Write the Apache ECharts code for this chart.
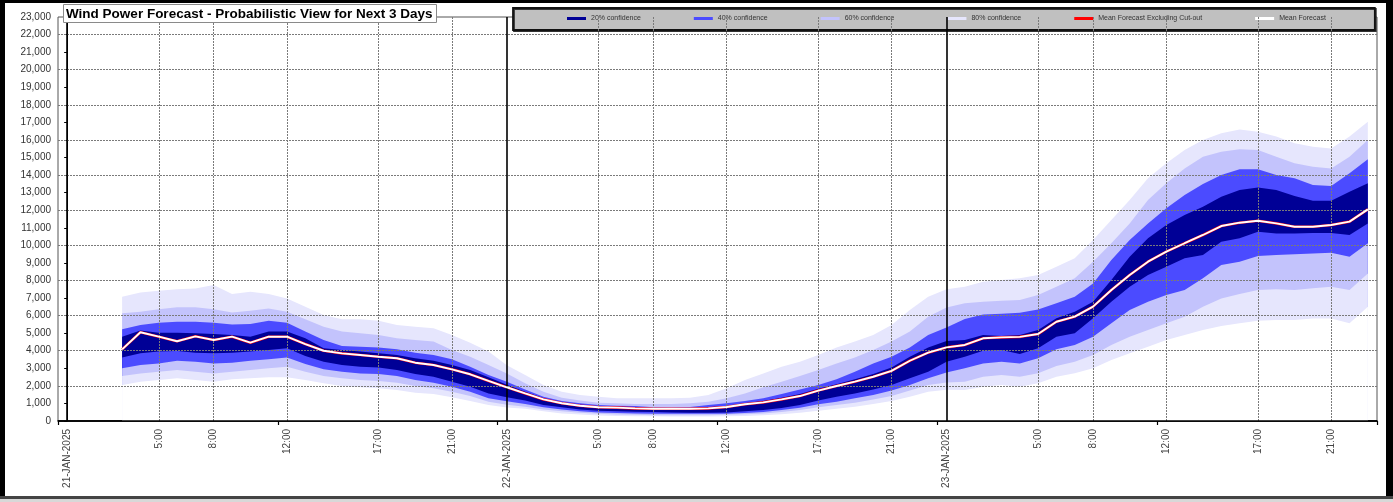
<!DOCTYPE html>
<html><head><meta charset="utf-8">
<script src="https://cdn.jsdelivr.net/npm/echarts@6/dist/echarts.min.js"></script>
<style>html,body{margin:0;padding:0;background:#fff}#c{width:1393px;height:502px}</style>
</head><body><div id="c"></div>
<script>
// hours since 21-JAN-2025 00:00
const hours = [3,4,5,6,7,8,9,10,11,12,13,14,15,16,17,18,19,20,21,22,23,24,
  25,26,27,28,29,30,31,32,33,34,35,36,37,38,39,40,41,42,43,44,45,46,47,48,
  49,50,51,52,53,54,55,56,57,58,59,60,61,62,63,64,65,66,67,68,69,70,71];

const hi80 = [7080,7310,7420,7500,7550,7740,7230,7360,7230,6980,6510,6030,5790,5790,5710,5470,5370,5280,4900,4460,3950,3180,
  2620,2050,1670,1480,1380,1290,1290,1290,1290,1330,1480,1860,2330,2710,3090,3380,3760,4190,4520,4900,5470,6320,7080,7500,
  7650,7930,8030,8120,8310,8780,9260,10300,11440,12580,13820,14670,15430,16000,16380,16600,16470,16190,15810,15620,15520,16190,17040];
const hi60 = [6130,6220,6360,6470,6470,6360,6170,6280,6410,6220,5790,5370,5090,4990,4900,4710,4610,4520,4040,3660,3190,2710,
  2150,1670,1330,1160,1040,1010,970,970,970,1010,1100,1290,1570,1920,2240,2560,2900,3280,3620,4040,4520,5090,5940,6460,
  6700,6790,6850,6890,7170,7650,8120,9070,10120,11250,12580,13530,14380,15050,15330,15470,15430,15050,14670,14480,14380,15050,16000];
const hi40 = [5220,5470,5600,5650,5650,5600,5500,5520,5710,5600,5090,4610,4270,4230,4190,4080,3890,3760,3510,3090,2620,2230,
  1800,1380,1140,1010,910,870,850,780,770,800,910,1010,1140,1290,1540,1800,2050,2370,2810,3280,3660,4190,4900,5320,
  5800,6070,6110,6160,6350,6700,7080,7830,9170,10300,11250,12110,12870,13490,14000,14330,14330,14000,13820,13430,13380,14100,14900];
const hi20 = [4800,5150,5030,5030,4990,4950,4900,4800,5090,5090,4710,4140,4040,3950,3850,3760,3570,3430,3190,2900,2490,2070,
  1670,1290,1040,910,810,780,760,740,740,740,780,850,1010,1140,1330,1540,1840,2090,2370,2680,3050,3660,4190,4560,
  4610,4900,4840,4900,5180,5850,6220,6790,8030,9350,10400,11160,11730,12200,12770,13150,13300,13150,12810,12540,12540,13050,13530];
const meanForecast = [4080,5050,4800,4540,4820,4610,4800,4460,4800,4800,4380,4000,3850,3760,3660,3570,3320,3190,2940,2660,2280,1920,
  1570,1230,1010,870,780,760,720,700,700,700,720,800,950,1060,1230,1420,1730,1990,2240,2520,2850,3430,3890,4190,
  4330,4710,4760,4790,4950,5650,5940,6510,7460,8310,9070,9640,10120,10590,11100,11290,11400,11250,11060,11060,11160,11350,12050];
const meanExCutout = meanForecast.slice();
const lo20 = [3620,3850,3950,3990,3890,3850,3890,3950,4040,4140,3700,3380,3190,3090,3050,2900,2680,2520,2240,1950,1570,1350,
  1160,910,780,660,590,550,530,510,490,470,470,490,550,630,740,910,1160,1380,1570,1800,2050,2430,2810,3380,
  3660,4000,4040,3810,4140,4800,4990,5850,6790,7650,8310,8780,9260,9450,10210,10400,10780,10680,10680,10700,10700,10590,11250];
const lo40 = [3000,3190,3280,3430,3380,3280,3320,3430,3510,3620,3240,2940,2810,2710,2680,2560,2330,2180,1950,1670,1290,1120,
  970,780,660,550,490,450,430,410,410,410,410,410,450,510,630,760,950,1100,1290,1480,1730,2050,2430,2760,
  3000,3280,3380,3280,3570,4080,4330,4800,5560,6320,6790,7170,7460,8120,8880,9070,9390,9450,9500,9540,9580,9350,10120];
const lo60 = [2560,2710,2810,2900,2810,2710,2810,2900,3000,3090,2810,2560,2430,2330,2280,2180,1990,1860,1670,1420,1100,930,
  810,660,550,470,410,370,350,330,330,330,330,350,390,430,510,630,780,910,1040,1230,1420,1730,2050,2190,
  2240,2520,2620,2520,2720,3130,3380,3760,4330,4800,5180,5560,5940,6510,6980,7230,7460,7500,7460,7560,7650,7460,8400];
const lo80 = [2050,2240,2330,2430,2330,2240,2370,2430,2490,2490,2330,2150,1990,1920,1860,1760,1610,1540,1350,1140,910,770,
  700,550,430,370,310,290,270,270,250,250,250,270,290,330,390,470,590,700,810,970,1140,1380,1670,1780,
  1760,1950,2050,1950,2150,2520,2720,3000,3470,3850,4230,4610,4900,5180,5410,5560,5710,5750,5750,5840,5840,5560,6510];

const tickHours  = [0,5,8,12,17,21,24,29,32,36,41,45,48,53,56,60,65,69];
const tickLabels = ['21-JAN-2025','5:00','8:00','12:00','17:00','21:00','22-JAN-2025','5:00','8:00','12:00','17:00','21:00','23-JAN-2025','5:00','8:00','12:00','17:00','21:00'];
const dayHours = [0,24,48];
const gridValues = [2000,4000,6000,8000,10000,12000,14000,16000,18000,20000,22000];

const C20='#000096', C40='#4b4bff', C60='#c3c3fc', C80='#e6e6fd';
const FONT = 'Liberation Sans, Arial, sans-serif';

function pts(arr){ return hours.map((h,i)=>[h,arr[i]]); }
function band(name, arr, color){
  return {name, type:'line', data:pts(arr), symbol:'none', showSymbol:false, silent:true,
    lineStyle:{width:0, color}, itemStyle:{color}, areaStyle:{color, opacity:1}, z:2, animation:false};
}

const labelMap = {};
tickHours.forEach((h,i)=>labelMap[h]=tickLabels[i]);

const markData = [];
gridValues.forEach(v=>markData.push({yAxis:v, lineStyle:{color:'#7a7a7a', width:1, type:[2,1]}}));
tickHours.forEach(h=>{
  if (dayHours.indexOf(h) >= 0) markData.push({xAxis:h, lineStyle:{color:'#000', width:1.6, type:'solid'}});
  else markData.push({xAxis:h, lineStyle:{color:'#7a7a7a', width:1, type:[2,1]}});
});
// x-axis baseline redrawn above the filled bands
markData.push({yAxis:0, lineStyle:{color:'#000', width:1.5, type:'solid'}});

const chart = echarts.init(document.getElementById('c'), null, {renderer:'canvas'});
chart.setOption({
  animation:false,
  backgroundColor:'#fff',
  title:{
    text:'Wind Power Forecast - Probabilistic View for Next 3 Days',
    left:63, top:4, padding:[3,4,2,3],
    backgroundColor:'#fff', borderColor:'#8a8a8a', borderWidth:1,
    textStyle:{fontFamily:FONT, fontSize:13.5, fontWeight:'bold', color:'#000'}
  },
  legend:{
    left:513, top:8, padding:[7,49,8,54], itemGap:53, itemWidth:19, itemHeight:3,
    backgroundColor:'#c0c0c0', borderColor:'#111', borderWidth:1.8,
    shadowColor:'#333', shadowOffsetX:1, shadowOffsetY:1, shadowBlur:0,
    selectedMode:false,
    textStyle:{fontFamily:FONT, fontSize:7, color:'#333'},
    data:[
      {name:'20% confidence', icon:'rect'},
      {name:'40% confidence', icon:'rect'},
      {name:'60% confidence', icon:'rect'},
      {name:'80% confidence', icon:'rect'},
      {name:'Mean Forecast Excluding Cut-out', icon:'rect'},
      {name:'Mean Forecast', icon:'rect'}
    ]
  },
  grid:{left:58, top:17, width:1319, height:404, show:true, borderColor:'#555', borderWidth:1, backgroundColor:'transparent'},
  xAxis:[{
    type:'value', min:-0.5, max:71.5, interval:0.5,
    axisLine:{show:true, lineStyle:{color:'#000', width:1.5}},
    axisTick:{show:false}, splitLine:{show:false},
    axisLabel:{rotate:90, margin:8, fontFamily:FONT, fontSize:10, color:'#444',
      formatter:v=>{const k=Math.round(v*2)/2; return (k in labelMap)? labelMap[k] : '';}}
  },{
    type:'value', min:-0.5, max:71.5, interval:12, position:'bottom',
    axisLine:{show:false}, axisLabel:{show:false}, splitLine:{show:false},
    axisTick:{show:true, length:4, lineStyle:{color:'#000', width:1.2}}
  }],
  yAxis:{
    type:'value', min:0, max:23000, interval:1000,
    axisLine:{show:true, lineStyle:{color:'#000', width:1}},
    axisTick:{show:true, length:3, lineStyle:{color:'#000'}},
    splitLine:{show:false},
    axisLabel:{margin:7, fontFamily:FONT, fontSize:10, color:'#333',
      formatter:v=>v.toLocaleString('en-US')}
  },
  series:[
    band('80% confidence', hi80, C80),
    band('60% confidence', hi60, C60),
    band('40% confidence', hi40, C40),
    band('20% confidence', hi20, C20),
    band('40% confidence', lo20, C40),
    band('60% confidence', lo40, C60),
    band('80% confidence', lo60, C80),
    band('', lo80, '#ffffff'),
    {type:'line', name:'grid', data:pts(meanForecast), symbol:'none', showSymbol:false, silent:true,
      lineStyle:{opacity:0}, z:3,
      markLine:{silent:true, symbol:'none', animation:false, label:{show:false}, data:markData}},
    {type:'line', name:'Mean Forecast Excluding Cut-out', data:pts(meanExCutout), symbol:'none', showSymbol:false,
      lineStyle:{color:'#ff0000', width:2.6}, itemStyle:{color:'#ff0000'}, z:4},
    {type:'line', name:'Mean Forecast', data:pts(meanForecast), symbol:'none', showSymbol:false,
      lineStyle:{color:'#ffffff', width:1.9}, itemStyle:{color:'#ffffff'}, z:5}
  ],
  graphic:[
    {type:'rect', z:100, shape:{x:0,y:0,width:1393,height:3}, style:{fill:'#000'}},
    {type:'rect', z:100, shape:{x:0,y:0,width:5,height:498}, style:{fill:'#000'}},
    {type:'rect', z:100, shape:{x:1386,y:0,width:7,height:498}, style:{fill:'#000'}},
    {type:'rect', z:100, shape:{x:0,y:496,width:1393,height:3}, style:{fill:'#444'}},
    {type:'rect', z:100, shape:{x:0,y:499,width:1393,height:3}, style:{fill:'#d8d8d8'}}
  ]
});
</script>
</body></html>
